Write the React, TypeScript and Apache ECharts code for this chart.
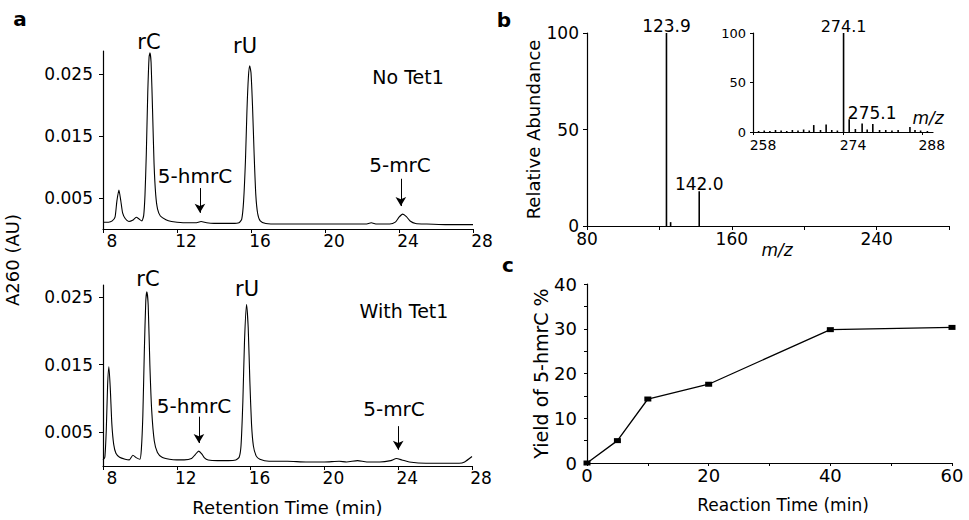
import React, { useEffect, useRef } from "react";
import * as echarts from "echarts";

const FONT = '"DejaVu Sans", "Liberation Sans", sans-serif';

// Panel a: HPLC traces [retention time (min), A260 (AU)]
const noTet1Trace: [number, number][] = [
  [8.0, 0.0011], [8.3, 0.0011], [8.5, 0.0013], [8.65, 0.0019], [8.75, 0.0045], [8.86, 0.0063], [8.96, 0.0046],
  [9.06, 0.0026], [9.2, 0.0017], [9.4, 0.0012], [9.6, 0.0014], [9.8, 0.0019], [9.95, 0.0016], [10.1, 0.0013],
  [10.2, 0.0022], [10.27, 0.0055], [10.34, 0.012], [10.42, 0.022], [10.49, 0.0277], [10.54, 0.0284], [10.6, 0.0268],
  [10.68, 0.019], [10.76, 0.0105], [10.85, 0.0055], [10.95, 0.0032], [11.1, 0.0021], [11.4, 0.0015], [11.7, 0.0012],
  [12.0, 0.0011], [12.5, 0.001], [13.0, 0.001], [13.3, 0.0012], [13.6, 0.001], [14.0, 0.0009], [14.5, 0.0009],
  [15.0, 0.0009], [15.35, 0.001], [15.5, 0.0016], [15.6, 0.0045], [15.7, 0.011], [15.78, 0.019], [15.86, 0.0245],
  [15.93, 0.0263], [16.0, 0.0252], [16.08, 0.02], [16.17, 0.012], [16.26, 0.0055], [16.36, 0.0025], [16.5, 0.0013],
  [16.8, 0.0009], [17.5, 0.0008], [18.5, 0.0008], [19.5, 0.0008], [20.5, 0.0008], [21.5, 0.0008], [22.2, 0.0008],
  [22.5, 0.001], [22.8, 0.0008], [23.5, 0.0008], [23.8, 0.0011], [24.0, 0.0019], [24.2, 0.0024], [24.4, 0.002],
  [24.6, 0.0013], [24.9, 0.0009], [25.5, 0.0008], [26.5, 0.0007], [27.5, 0.0007], [28.0, 0.0007],
];

const withTet1Trace: [number, number][] = [
  [8.0, 0.0009], [8.1, 0.0013], [8.18, 0.0055], [8.25, 0.012], [8.32, 0.0147], [8.4, 0.0112], [8.48, 0.0062],
  [8.58, 0.0032], [8.7, 0.0019], [8.9, 0.0013], [9.2, 0.001], [9.42, 0.0009], [9.62, 0.0016], [9.82, 0.0012],
  [10.0, 0.001], [10.08, 0.0025], [10.16, 0.0075], [10.24, 0.017], [10.32, 0.0245], [10.38, 0.0258], [10.45, 0.0238],
  [10.54, 0.015], [10.64, 0.0082], [10.78, 0.0037], [10.95, 0.002], [11.2, 0.0013], [11.6, 0.001], [12.0, 0.0009],
  [12.4, 0.0009], [12.8, 0.0011], [13.0, 0.0017], [13.19, 0.0022], [13.35, 0.0018], [13.5, 0.0012], [13.7, 0.0009],
  [14.2, 0.0008], [14.8, 0.0008], [15.2, 0.0009], [15.38, 0.0013], [15.48, 0.003], [15.58, 0.0095], [15.67, 0.0185],
  [15.78, 0.0239], [15.87, 0.0205], [15.96, 0.0125], [16.05, 0.0062], [16.15, 0.003], [16.3, 0.0015], [16.5, 0.001],
  [17.0, 0.0007], [18.0, 0.0007], [19.0, 0.0006], [20.0, 0.0006], [20.8, 0.0007], [21.2, 0.0006], [21.8, 0.0008],
  [22.3, 0.0006], [23.0, 0.0006], [23.6, 0.0008], [23.9, 0.0011], [24.2, 0.0009], [24.6, 0.0006], [25.5, 0.0004],
  [26.5, 0.0004], [27.3, 0.0004], [27.6, 0.0006], [28.0, 0.0014],
];

const retentionTicks = [8, 12, 16, 20, 24, 28];
const absorbanceTicks = [0.005, 0.015, 0.025];

// Arrow annotations (retention time, from A260, to A260)
const arrowsNoTet1: [number, number, number][] = [
  [13.24, 0.0066, 0.0026],
  [24.1, 0.0081, 0.0037],
];
const arrowsWithTet1: [number, number, number][] = [
  [13.2, 0.0073, 0.0034],
  [24.0, 0.0059, 0.0024],
];

// Panel b: MS/MS spectrum [m/z, relative abundance]
const msPeaks: [number, number][] = [
  [123.9, 100], [126.2, 2], [142.0, 18],
];
const msLabelTicks = [80, 160, 240];
const abundanceTicks = [0, 50, 100];

// Panel b inset: MS spectrum
const insetPeaks: [number, number][] = [
  [259, 1], [260, 1.5], [261, 1], [262, 2], [263, 1.5], [264, 1], [265, 2], [266, 1.5], [267, 2.5], [268, 1.5],
  [268.8, 7], [270, 2], [271, 7.5], [272, 2], [273, 1.5], [274.1, 100], [275.1, 13], [276.2, 3], [277.4, 8.5],
  [278.3, 2.5], [279.3, 8], [280.5, 2], [281.6, 2], [282.7, 1.5], [283.8, 2], [285.9, 5], [286.8, 2], [287.8, 1.5],
  [289, 1],
];
const insetLabelTicks = [258, 274, 288];

// Panel c: yield vs reaction time
const reactionTime = [0, 5, 10, 20, 40, 60];
const yieldPct = [0, 5.0, 14.3, 17.6, 29.8, 30.3];
const yieldLabelTicks = [0, 10, 20, 30, 40];
const timeLabelTicks = [0, 20, 40, 60];

const BLACK = "#000";

function axisBase(gridIndex: number, fontSize: number) {
  return {
    gridIndex,
    type: "value" as const,
    axisLine: { show: true, lineStyle: { color: BLACK, width: 1.2 } },
    axisTick: { show: true, length: 4, lineStyle: { color: BLACK, width: 1 } },
    axisLabel: { color: BLACK, fontFamily: FONT, fontSize },
    splitLine: { show: false },
  };
}

function txt(text: string, x: number, y: number, size: number, extra: any = {}) {
  return {
    type: "text",
    x,
    y,
    silent: true,
    style: {
      text,
      fill: BLACK,
      font: `${extra.fontStyle || "normal"} ${extra.fontWeight || "normal"} ${size}px ${FONT}`,
      textAlign: extra.align || "center",
      textVerticalAlign: "middle",
    },
    rotation: extra.rotation || 0,
  };
}

function arrowLines(arrows: [number, number, number][]) {
  return arrows.map(([x, y0, y1]) => [{ coord: [x, y0] }, { coord: [x, y1] }]);
}

export default function App() {
  const ref = useRef<HTMLDivElement>(null);

  useEffect(() => {
    document.body.style.margin = "0";
    if (!ref.current) return;
    const chart = echarts.init(ref.current, null, { renderer: "svg" });

    const option: any = {
      animation: false,
      backgroundColor: "#fff",
      textStyle: { fontFamily: FONT, color: BLACK },
      grid: [
        { left: 103, top: 51, width: 370, height: 178 },
        { left: 103, top: 285, width: 369, height: 181 },
        { left: 587, top: 33, width: 362, height: 193 },
        { left: 753, top: 33, width: 180, height: 99 },
        { left: 587, top: 284, width: 365, height: 179 },
      ],
      xAxis: [
        {
          ...axisBase(0, 17),
          min: 8, max: 28, interval: 4,
          axisLabel: { color: BLACK, fontFamily: FONT, fontSize: 17, margin: 3, padding: [0, 0, 0, 18], customValues: retentionTicks },
          axisTick: { show: true, length: 4, customValues: retentionTicks, lineStyle: { color: BLACK } },
        },
        {
          ...axisBase(1, 17),
          min: 8, max: 28, interval: 4,
          axisLabel: { color: BLACK, fontFamily: FONT, fontSize: 17, margin: 3, padding: [0, 0, 0, 18], customValues: retentionTicks },
          axisTick: { show: true, length: 4, customValues: retentionTicks, lineStyle: { color: BLACK } },
          name: "Retention Time (min)",
          nameLocation: "middle",
          nameGap: 32,
          nameTextStyle: { color: BLACK, fontFamily: FONT, fontSize: 18, verticalAlign: "top" },
        },
        {
          ...axisBase(2, 17),
          min: 80, max: 280, interval: 40,
          axisLabel: { color: BLACK, fontFamily: FONT, fontSize: 17, margin: 4, customValues: msLabelTicks },
        },
        {
          ...axisBase(3, 14),
          min: 258, max: 290,
          axisLabel: { color: BLACK, fontFamily: FONT, fontSize: 14, margin: 6, padding: [0, 0, 0, 20], customValues: insetLabelTicks },
          axisTick: { show: true, length: 3, customValues: insetLabelTicks, lineStyle: { color: BLACK } },
        },
        {
          ...axisBase(4, 18),
          min: 0, max: 60, interval: 10,
          axisLabel: { color: BLACK, fontFamily: FONT, fontSize: 18, margin: 3, customValues: timeLabelTicks },
          axisTick: { show: true, length: 3, lineStyle: { color: BLACK } },
          name: "Reaction Time (min)",
          nameLocation: "middle",
          nameGap: 33,
          nameTextStyle: { color: BLACK, fontFamily: FONT, fontSize: 17, verticalAlign: "top", padding: [0, 0, 0, 27] },
        },
      ],
      yAxis: [
        {
          ...axisBase(0, 17),
          min: 0, max: 0.0287,
          axisLabel: { color: BLACK, fontFamily: FONT, fontSize: 17, margin: 10, customValues: absorbanceTicks },
          axisTick: { show: true, length: 4, customValues: absorbanceTicks, lineStyle: { color: BLACK } },
        },
        {
          ...axisBase(1, 17),
          min: 0, max: 0.0268,
          axisLabel: { color: BLACK, fontFamily: FONT, fontSize: 17, margin: 10, customValues: absorbanceTicks },
          axisTick: { show: true, length: 4, customValues: absorbanceTicks, lineStyle: { color: BLACK } },
        },
        {
          ...axisBase(2, 17),
          min: 0, max: 100, interval: 50,
          axisLabel: { color: BLACK, fontFamily: FONT, fontSize: 17, margin: 8, customValues: abundanceTicks },
          name: "Relative Abundance",
          nameLocation: "middle",
          nameGap: 44,
          nameTextStyle: { color: BLACK, fontFamily: FONT, fontSize: 18 },
        },
        {
          ...axisBase(3, 13),
          min: 0, max: 100, interval: 50,
          axisLabel: { color: BLACK, fontFamily: FONT, fontSize: 13, margin: 7, customValues: abundanceTicks },
          axisTick: { show: true, length: 3, lineStyle: { color: BLACK } },
        },
        {
          ...axisBase(4, 18),
          min: 0, max: 40, interval: 5,
          axisLabel: { color: BLACK, fontFamily: FONT, fontSize: 18, margin: 10, customValues: yieldLabelTicks },
          axisTick: { show: true, length: 3, lineStyle: { color: BLACK } },
          name: "Yield of 5-hmrC %",
          nameLocation: "middle",
          nameGap: 37,
          nameTextStyle: { color: BLACK, fontFamily: FONT, fontSize: 19 },
        },
      ],
      series: [
        {
          type: "line",
          xAxisIndex: 0,
          yAxisIndex: 0,
          data: noTet1Trace,
          showSymbol: false,
          smooth: 0.2,
          lineStyle: { color: BLACK, width: 1.1 },
          silent: true,
          markLine: {
            silent: true,
            symbol: ["none", "arrow"],
            symbolSize: [8, 9],
            label: { show: false },
            lineStyle: { color: BLACK, width: 1, type: "solid" },
            data: arrowLines(arrowsNoTet1),
          },
        },
        {
          type: "line",
          xAxisIndex: 1,
          yAxisIndex: 1,
          data: withTet1Trace,
          showSymbol: false,
          smooth: 0.2,
          lineStyle: { color: BLACK, width: 1.1 },
          silent: true,
          markLine: {
            silent: true,
            symbol: ["none", "arrow"],
            symbolSize: [8, 9],
            label: { show: false },
            lineStyle: { color: BLACK, width: 1, type: "solid" },
            data: arrowLines(arrowsWithTet1),
          },
        },
        {
          type: "bar",
          xAxisIndex: 2,
          yAxisIndex: 2,
          barWidth: 1.6,
          itemStyle: { color: BLACK },
          silent: true,
          data: msPeaks.map(([mz, ab]) => ({
            value: [mz, ab],
            label:
              ab >= 10
                ? { show: true, position: "top", distance: -1, formatter: mz.toFixed(1), color: BLACK, fontFamily: FONT, fontSize: 17 }
                : { show: false },
          })),
        },
        {
          type: "bar",
          xAxisIndex: 3,
          yAxisIndex: 3,
          barWidth: 1.6,
          itemStyle: { color: BLACK },
          silent: true,
          data: insetPeaks.map(([mz, ab]) => ({
            value: [mz, ab],
            label:
              ab >= 50
                ? { show: true, position: "top", distance: -1, formatter: mz.toFixed(1), color: BLACK, fontFamily: FONT, fontSize: 16 }
                : ab >= 10
                ? { show: true, position: "top", distance: 0, offset: [23, 2], formatter: mz.toFixed(1), color: BLACK, fontFamily: FONT, fontSize: 17 }
                : { show: false },
          })),
        },
        {
          type: "line",
          xAxisIndex: 4,
          yAxisIndex: 4,
          data: reactionTime.map((t, i) => [t, yieldPct[i]]),
          symbol: "rect",
          symbolSize: [7, 5],
          lineStyle: { color: BLACK, width: 1.3 },
          itemStyle: { color: BLACK },
          silent: true,
        },
      ],
      graphic: [
        txt("a", 20, 19, 20, { fontWeight: "bold" }),
        txt("b", 504, 20, 20, { fontWeight: "bold" }),
        txt("c", 508, 265, 20, { fontWeight: "bold" }),
        txt("A260 (AU)", 12, 260, 18, { rotation: Math.PI / 2 }),
        txt("rC", 149, 42, 21),
        txt("rU", 245, 46, 21),
        txt("No Tet1", 408, 77, 19),
        txt("5-hmrC", 195, 176, 20),
        txt("5-mrC", 400, 165, 20),
        txt("rC", 148, 279, 21),
        txt("rU", 247, 289, 21),
        txt("With Tet1", 404, 311, 19),
        txt("5-hmrC", 194, 406, 20),
        txt("5-mrC", 394, 409, 20),
        txt("m/z", 777, 250, 17, { fontStyle: "italic" }),
        txt("m/z", 928, 118, 17, { fontStyle: "italic" }),
      ],
    };

    chart.setOption(option);
    return () => chart.dispose();
  }, []);

  return <div ref={ref} style={{ width: 969, height: 520 }} />;
}
